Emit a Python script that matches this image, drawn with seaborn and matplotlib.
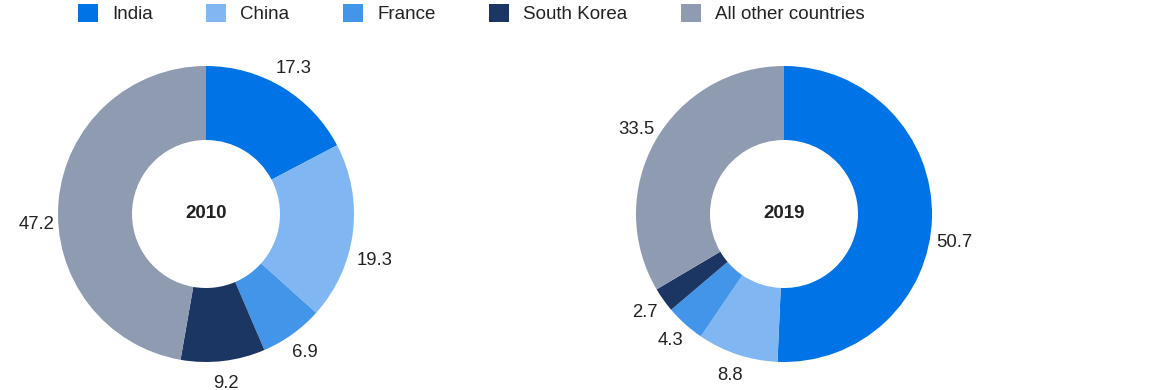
import matplotlib
matplotlib.use("Agg")
import matplotlib.pyplot as plt
import matplotlib.patches as mpatches
import seaborn as sns

countries = ["India", "China", "France", "South Korea", "All other countries"]
share_2010 = [17.3, 19.3, 6.9, 9.2, 47.2]
share_2019 = [50.7, 8.8, 4.3, 2.7, 33.5]
years = ["2010", "2019"]

sns.set_theme(style="white")
plt.rcParams['font.family'] = ['Liberation Sans', 'DejaVu Sans']

palette = sns.color_palette(["#0073E6", "#80B7F2", "#4395EA", "#1C3663", "#8F9BB1"])
text_col = "#222222"

W, H = 1172, 390
fig = plt.figure(figsize=(W / 100, H / 100), dpi=100)

# donut centres in pixels (from top-left), radius in pixels
centres = [(206, 214), (784, 214)]
R = 148

for (cx, cy), year, vals in zip(centres, years, [share_2010, share_2019]):
    ax = fig.add_axes([(cx - R) / W, (H - cy - R) / H, 2 * R / W, 2 * R / H])
    wedges, texts = ax.pie(
        vals, labels=[f"{v:.1f}" for v in vals], colors=palette,
        startangle=90, counterclock=False, labeldistance=1.15,
        wedgeprops=dict(width=0.5, linewidth=0),
        textprops=dict(fontsize=13.3, color=text_col),
    )
    for t in texts:
        t.set_ha("center")
        # labels on the horizontal sides sit a little lower in the original
        x, y = t.get_position()
        if abs(y) < 0.3:
            t.set_position((x, y - 0.17))
    ax.set_xlim(-1, 1)
    ax.set_ylim(-1, 1)
    ax.text(0, 0, year, ha="center", va="center", fontsize=13.5,
            fontweight="bold", color=text_col)

handles = [mpatches.Patch(color=c, linewidth=0) for c in palette]
fig.legend(handles, countries, loc="upper left",
           bbox_to_anchor=(78 / W, 1 - 4 / H), ncol=5, frameon=False,
           fontsize=13.5, handlelength=1.07, handleheight=1.07,
           handletextpad=0.75, columnspacing=2.85, borderpad=0,
           borderaxespad=0, labelcolor=text_col)

fig.savefig("out.png", dpi=100, facecolor="white")
